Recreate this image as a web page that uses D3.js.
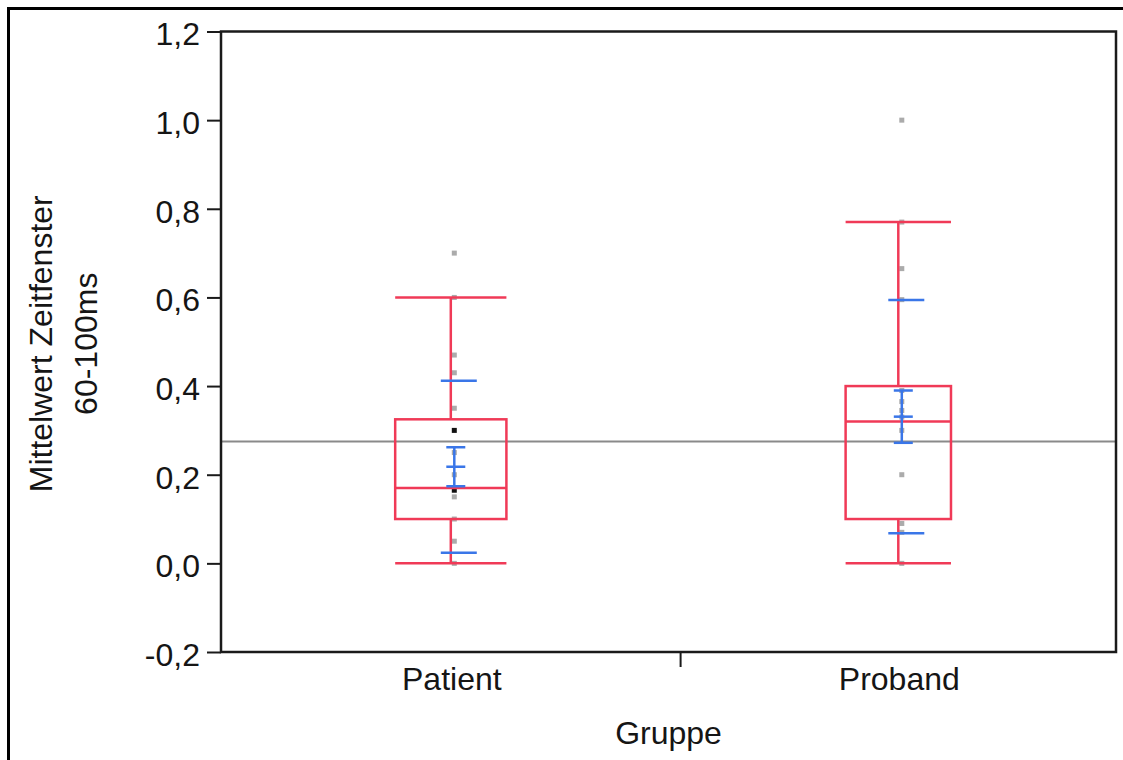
<!DOCTYPE html>
<html>
<head>
<meta charset="utf-8">
<script src="https://cdn.jsdelivr.net/npm/d3@7"></script>
<style>
  html, body { margin: 0; padding: 0; background: #fff; }
  svg { display: block; }
  text { font-family: "Liberation Sans", Arial, sans-serif; fill: #151515; }
</style>
</head>
<body>
<svg id="chart" width="1123" height="760"></svg>
<script>
// Groups and their sample sizes (x segment widths are proportional to n)
const groups = ["Patient", "Proband"];
const groupN = [19, 18];

// Quantile box summary per group
const whiskerLow  = [0.00, 0.00];
const quartile1   = [0.10, 0.10];
const medians     = [0.17, 0.32];
const quartile3   = [0.325, 0.40];
const whiskerHigh = [0.60, 0.77];

// Means with standard error and standard deviation
const means = [0.218, 0.331];
const stdErr = [0.044, 0.059];
const stdDev = [0.194, 0.263];

// Overall mean reference line
const grandMean = 0.275;

// Individual observations (value, count of overlapping points)
const patientValues = [0.70, 0.60, 0.47, 0.43, 0.35, 0.30, 0.25, 0.20, 0.165, 0.15, 0.10, 0.05, 0.00];
const patientCounts = [1, 1, 1, 1, 1, 2, 1, 1, 2, 1, 1, 1, 1];
const probandValues = [1.00, 0.77, 0.665, 0.595, 0.39, 0.365, 0.345, 0.33, 0.30, 0.20, 0.09, 0.07, 0.00];
const probandCounts = [1, 1, 1, 1, 1, 1, 1, 1, 1, 1, 1, 1, 1];

// Y axis ticks
const yTicks = [-0.2, 0.0, 0.2, 0.4, 0.6, 0.8, 1.0, 1.2];

const svg = d3.select("#chart");
const plot = { left: 221, right: 1116, top: 31.5, bottom: 652 };

const y = d3.scaleLinear().domain([-0.2, 1.2]).range([plot.bottom, plot.top]);
const total = d3.sum(groupN);
const x = d3.scaleLinear().domain([0, total]).range([plot.left, plot.right]);

const cum = d3.cumsum(groupN);
const seg = groups.map((g, i) => {
  const a = i === 0 ? 0 : cum[i - 1];
  const b = cum[i];
  return { g, i, x0: x(a), x1: x(b), cx: (x(a) + x(b)) / 2, w: x(b) - x(a) };
});

const RED = "#f03a57";
const BLUE = "#3a76e8";

// Outer frame
svg.append("path")
  .attr("d", "M8.5,760 V8.5 H1123")
  .attr("fill", "none").attr("stroke", "#000").attr("stroke-width", 3);

// Overall mean line
svg.append("line")
  .attr("x1", plot.left).attr("x2", plot.right)
  .attr("y1", y(grandMean)).attr("y2", y(grandMean))
  .attr("stroke", "#8a8a8a").attr("stroke-width", 2);

// Observations
const pointSets = [
  { values: patientValues, counts: patientCounts },
  { values: probandValues, counts: probandCounts }
];
pointSets.forEach((ps, i) => {
  const s = seg[i];
  svg.append("g").selectAll("rect")
    .data(ps.values.map((v, k) => ({ v, c: ps.counts[k] })))
    .join("rect")
    .attr("x", s.cx + 3.5 - 2.5)
    .attr("y", d => y(d.v) - 2.5)
    .attr("width", 5).attr("height", 5)
    .attr("fill", d => d.c > 1 ? "#111" : "#ababab");
});

// Quantile boxes with whiskers
seg.forEach(s => {
  const i = s.i;
  const bw = s.w * 0.242;
  const g = svg.append("g").attr("fill", "none").attr("stroke", RED).attr("stroke-width", 2.5);
  g.append("rect")
    .attr("x", s.cx - bw / 2).attr("width", bw)
    .attr("y", y(quartile3[i])).attr("height", y(quartile1[i]) - y(quartile3[i]));
  g.append("line")
    .attr("x1", s.cx - bw / 2).attr("x2", s.cx + bw / 2)
    .attr("y1", y(medians[i])).attr("y2", y(medians[i]));
  g.append("line")
    .attr("x1", s.cx).attr("x2", s.cx)
    .attr("y1", y(quartile3[i])).attr("y2", y(whiskerHigh[i]));
  g.append("line")
    .attr("x1", s.cx).attr("x2", s.cx)
    .attr("y1", y(quartile1[i])).attr("y2", y(whiskerLow[i]));
  [whiskerHigh[i], whiskerLow[i]].forEach(v => {
    g.append("line")
      .attr("x1", s.cx - bw / 2).attr("x2", s.cx + bw / 2)
      .attr("y1", y(v)).attr("y2", y(v));
  });
});

// Means: standard error bar and standard deviation marks
seg.forEach(s => {
  const i = s.i;
  const g = svg.append("g").attr("stroke", BLUE).attr("stroke-width", 2.5).attr("fill", "none");
  const vx = s.cx + 3.5;
  const seC = s.cx + 5, seW = 19;
  const sdC = s.cx + 8, sdW = 36;
  g.append("line")
    .attr("x1", vx).attr("x2", vx)
    .attr("y1", y(means[i] + stdErr[i])).attr("y2", y(means[i] - stdErr[i]));
  [means[i] + stdErr[i], means[i], means[i] - stdErr[i]].forEach(v => {
    g.append("line")
      .attr("x1", seC - seW / 2).attr("x2", seC + seW / 2)
      .attr("y1", y(v)).attr("y2", y(v));
  });
  [means[i] + stdDev[i], means[i] - stdDev[i]].forEach(v => {
    g.append("line")
      .attr("x1", sdC - sdW / 2).attr("x2", sdC + sdW / 2)
      .attr("y1", y(v)).attr("y2", y(v));
  });
});

// Plot frame
svg.append("rect")
  .attr("x", plot.left).attr("y", plot.top)
  .attr("width", plot.right - plot.left).attr("height", plot.bottom - plot.top)
  .attr("fill", "none").attr("stroke", "#1a1a1a").attr("stroke-width", 2.5);

// Y axis (decimal comma, plain hyphen for negatives)
const fmt = d3.format(".1f");
const yAxis = svg.append("g")
  .attr("transform", `translate(${plot.left},0)`)
  .call(d3.axisLeft(y).tickValues(yTicks).tickSize(14).tickPadding(7)
    .tickFormat(d => fmt(d).replace(".", ",").replace("\u2212", "-")));
yAxis.select(".domain").remove();
yAxis.selectAll(".tick line").attr("stroke", "#1a1a1a").attr("stroke-width", 2);
yAxis.selectAll(".tick text")
  .attr("font-size", 32).attr("dy", "0.42em")
  .style("font-family", "'Liberation Sans', Arial, sans-serif").attr("fill", "#151515");

// X axis: segment boundary ticks and group labels
svg.append("g").selectAll("line")
  .data(seg.slice(1))
  .join("line")
  .attr("x1", d => d.x0).attr("x2", d => d.x0)
  .attr("y1", plot.bottom).attr("y2", plot.bottom + 15)
  .attr("stroke", "#1a1a1a").attr("stroke-width", 2);

svg.append("g").selectAll("text")
  .data(seg)
  .join("text")
  .attr("x", d => d.cx + 1)
  .attr("y", 690)
  .attr("text-anchor", "middle")
  .attr("font-size", 32)
  .text(d => d.g);

// Axis titles
svg.append("text")
  .attr("x", (plot.left + plot.right) / 2)
  .attr("y", 744)
  .attr("text-anchor", "middle")
  .attr("font-size", 32)
  .text("Gruppe");

const yTitle = svg.append("g")
  .attr("transform", `translate(0,${(plot.top + plot.bottom) / 2 + 2}) rotate(-90)`);
yTitle.append("text")
  .attr("x", 0).attr("y", 52)
  .attr("text-anchor", "middle")
  .attr("font-size", 32)
  .text("Mittelwert Zeitfenster");
yTitle.append("text")
  .attr("x", 0).attr("y", 97)
  .attr("text-anchor", "middle")
  .attr("font-size", 32)
  .text("60-100ms");
</script>
</body>
</html>
